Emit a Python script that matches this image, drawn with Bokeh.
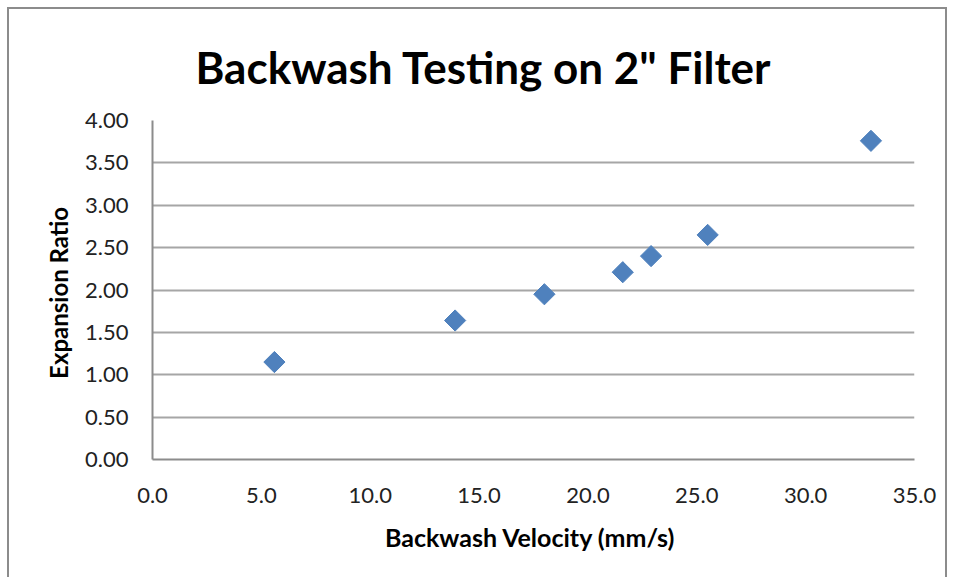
from bokeh.plotting import figure
from bokeh.models import Range1d, FixedTicker, Title, PrintfTickFormatter
from bokeh.embed import file_html
from bokeh.resources import INLINE
import math

velocity = [5.6, 13.9, 18.0, 21.6, 22.9, 25.5, 33.0]
expansion = [1.15, 1.64, 1.95, 2.21, 2.40, 2.65, 3.76]
x_ticks = [0, 5, 10, 15, 20, 25, 30, 35]
y_ticks = [0, 0.5, 1.0, 1.5, 2.0, 2.5, 3.0, 3.5, 4.0]

FONT = "Lato"

p = figure(width=940, height=570, output_backend="svg", toolbar_location=None,
           x_range=Range1d(0, 35), y_range=Range1d(0, 4),
           min_border_left=143, min_border_right=35, min_border_top=111, min_border_bottom=120)
p.styles = {"margin-left": "7px", "margin-top": "7px",
            "border-left": "2px solid #8c8c8c", "border-top": "2px solid #8c8c8c",
            "border-right": "2px solid #8c8c8c"}

p.title = None
t = Title(text='Backwash Testing on 2" Filter', align="left", offset=43,
          text_font=FONT, text_font_size="44px", text_font_style="bold",
          text_color="#000000", standoff=56)
p.add_layout(t, "above")

p.outline_line_color = None
p.xgrid.grid_line_color = None
p.ygrid.grid_line_color = "#a6a6a6"
p.ygrid.grid_line_width = 2

p.scatter(velocity, expansion, marker="square", size=15, angle=math.pi / 4,
          fill_color="#4F81BD", line_color="#4F81BD")

for ax in (p.xaxis[0], p.yaxis[0]):
    ax.axis_line_color = "#8c8c8c"
    ax.axis_line_width = 2
    ax.major_tick_line_color = None
    ax.minor_tick_line_color = None
    ax.major_label_text_font = FONT
    ax.major_label_text_font_size = "22px"
    ax.major_label_text_color = "#222222"
    ax.axis_label_text_font = FONT
    ax.axis_label_text_font_style = "bold"
    ax.axis_label_text_color = "#000000"

p.xaxis.axis_label_text_font_size = "25px"
p.yaxis.axis_label_text_font_size = "24px"
p.xaxis.ticker = FixedTicker(ticks=x_ticks)
p.xaxis.formatter = PrintfTickFormatter(format="%.1f")
p.yaxis.ticker = FixedTicker(ticks=y_ticks)
p.yaxis.formatter = PrintfTickFormatter(format="%.2f")
p.xaxis.major_label_standoff = 22
p.yaxis.major_label_standoff = 18
p.xaxis.axis_label = "Backwash  Velocity (mm/s)"
p.yaxis.axis_label = "Expansion  Ratio"
p.xaxis.axis_label_standoff = 16
p.yaxis.axis_label_standoff = 9

open("out.html", "w").write(file_html(p, INLINE))
